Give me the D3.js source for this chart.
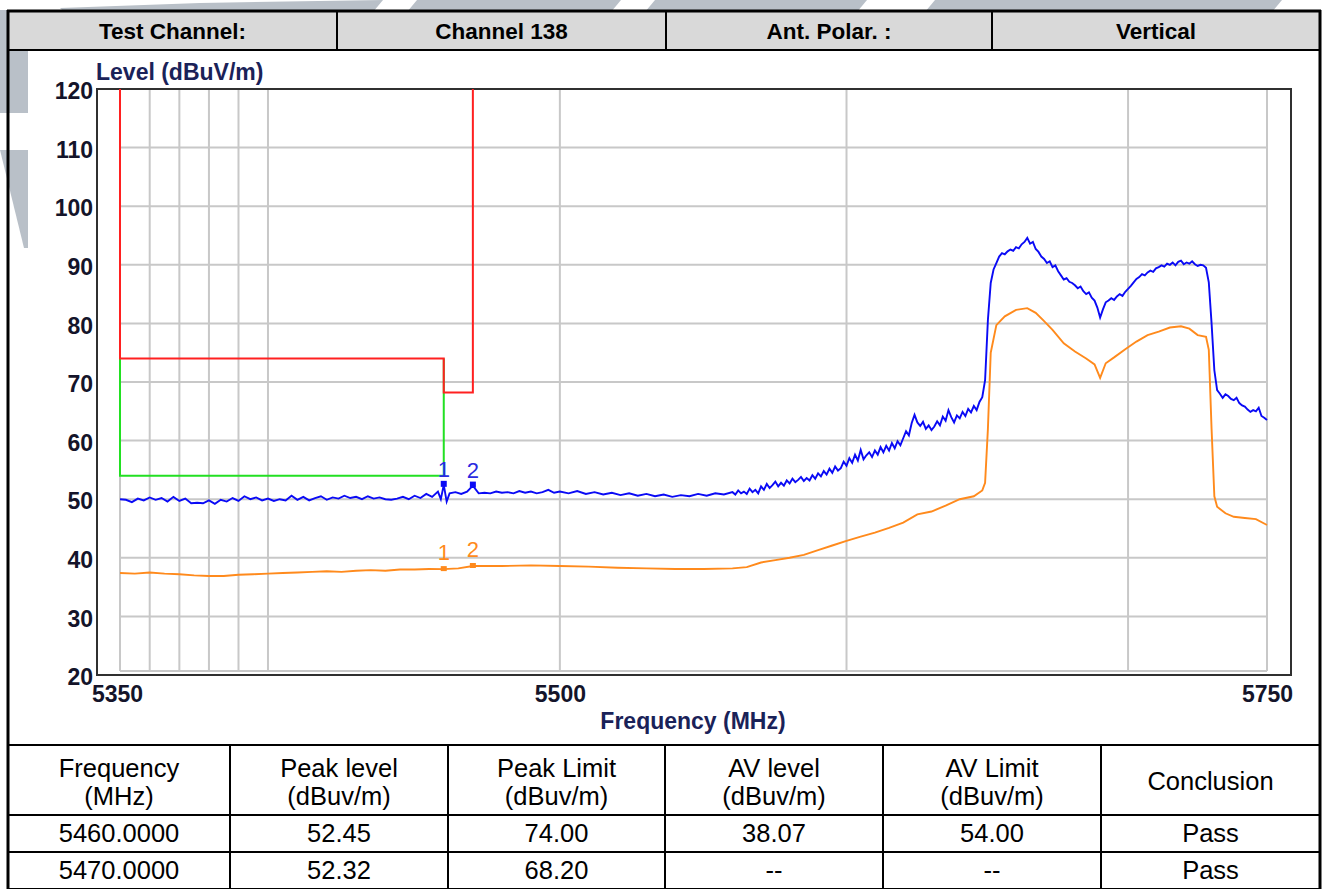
<!DOCTYPE html>
<html>
<head>
<meta charset="utf-8">
<script src="https://cdn.jsdelivr.net/npm/d3@7"></script>
<style>
  html, body { margin: 0; padding: 0; background: #ffffff; }
  svg { display: block; }
  text { font-family: "Liberation Sans", Arial, sans-serif; }
</style>
</head>
<body>
<svg id="chart" width="1330" height="889"></svg>
<script>
// ---- report header ----
const headerCells = ["Test Channel:", "Channel 138", "Ant. Polar. :", "Vertical"];

// ---- axis ticks ----
const yTicks = [20, 30, 40, 50, 60, 70, 80, 90, 100, 110, 120];
const xTickLabels = [5350, 5500, 5750];
const xGridFreqs = [5350, 5360, 5370, 5380, 5390, 5400, 5500, 5600, 5700, 5750];

// ---- limit lines (MHz, dBuV/m) ----
const peakLimit = [[5350, 120], [5350, 74], [5460, 74], [5460, 68.2], [5470, 68.2], [5470, 120]];
const avgLimit = [[5350, 74], [5350, 54], [5460, 54], [5460, 74]];

// ---- peak detector trace (MHz, dBuV/m) ----
const peakTrace = [
  [5350, 50.0], [5352, 49.9], [5354, 49.5], [5356, 50.1], [5358, 49.8], [5360, 50.3],
  [5362, 49.9], [5364, 50.2], [5366, 49.6], [5368, 50.4], [5370, 49.7], [5372, 50.1],
  [5374, 49.3], [5376, 49.4], [5378, 49.3], [5380, 49.8], [5382, 49.2], [5384, 49.9],
  [5386, 49.6], [5388, 50.2], [5390, 49.7], [5392, 50.5], [5394, 50.0], [5396, 50.3],
  [5398, 49.8], [5400, 50.1], [5402, 49.7], [5404, 50.0], [5406, 49.8], [5408, 50.6],
  [5410, 49.9], [5412, 50.4], [5414, 49.8], [5416, 50.2], [5418, 50.5], [5420, 49.9],
  [5422, 50.3], [5424, 50.1], [5426, 50.6], [5428, 50.2], [5430, 50.4], [5432, 50.0],
  [5434, 50.5], [5436, 50.1], [5438, 50.3], [5440, 50.0], [5442, 49.9], [5444, 50.1],
  [5446, 50.4], [5448, 50.0], [5450, 50.6], [5452, 50.2], [5454, 50.9], [5456, 50.4],
  [5458, 51.3], [5459, 50.0], [5460, 52.45], [5461, 49.6], [5462, 51.0], [5464, 51.2],
  [5466, 50.9], [5468, 51.3], [5470, 52.32], [5472, 51.0], [5474, 51.1], [5476, 51.0],
  [5478, 51.3], [5480, 51.1], [5482, 51.2], [5484, 51.0], [5486, 51.4], [5488, 51.1],
  [5490, 51.3], [5492, 51.0], [5494, 51.2], [5496, 51.6], [5498, 51.1], [5500, 51.3],
  [5503, 51.0], [5506, 51.4], [5509, 50.9], [5512, 51.2], [5515, 50.8], [5518, 51.1],
  [5521, 50.7], [5524, 51.0], [5527, 50.6], [5530, 50.9], [5533, 50.5], [5536, 50.8],
  [5539, 50.4], [5542, 50.7], [5545, 50.5], [5548, 50.9], [5551, 50.6], [5554, 51.0],
  [5557, 50.8], [5560, 51.2], [5561, 50.8], [5562, 51.5], [5563, 51.0], [5564, 51.3],
  [5565, 50.9], [5566, 51.8], [5567, 51.2], [5568, 51.6], [5569, 51.0], [5570, 52.2],
  [5571, 51.6], [5572, 52.6], [5573, 51.9], [5574, 52.4], [5575, 53.0], [5576, 52.2],
  [5577, 52.8], [5578, 52.3], [5579, 53.2], [5580, 52.7], [5581, 53.5], [5582, 52.9],
  [5583, 53.3], [5584, 53.8], [5585, 53.1], [5586, 53.6], [5587, 53.2], [5588, 54.1],
  [5589, 53.5], [5590, 54.4], [5591, 53.9], [5592, 54.8], [5593, 54.2], [5594, 55.2],
  [5595, 54.5], [5596, 55.6], [5597, 54.9], [5598, 55.3], [5599, 56.4], [5600, 55.7],
  [5601, 57.0], [5602, 56.2], [5603, 57.6], [5604, 56.6], [5605, 58.4], [5606, 56.8],
  [5607, 57.5], [5608, 58.0], [5609, 57.2], [5610, 58.3], [5611, 57.6], [5612, 58.9],
  [5613, 58.0], [5614, 59.1], [5615, 58.3], [5616, 59.6], [5617, 58.7], [5618, 59.9],
  [5619, 59.2], [5620, 60.4], [5621, 61.6], [5622, 60.9], [5623, 63.0], [5624, 64.4],
  [5625, 63.1], [5626, 62.5], [5627, 63.2], [5628, 62.0], [5629, 62.6], [5630, 61.8],
  [5631, 62.4], [5632, 63.3], [5633, 62.6], [5634, 64.1], [5635, 63.4], [5636, 65.2],
  [5637, 64.0], [5638, 63.1], [5639, 64.3], [5640, 63.8], [5641, 64.9], [5642, 64.2],
  [5643, 65.4], [5644, 64.8], [5645, 65.9], [5646, 65.2], [5647, 66.6], [5648, 67.4],
  [5649, 70.3], [5650, 80.6], [5651, 86.9], [5652, 89.2], [5653, 90.3], [5654, 91.4],
  [5655, 92.0], [5656, 91.8], [5657, 92.3], [5658, 92.6], [5659, 92.4], [5660, 93.0],
  [5661, 92.8], [5662, 93.5], [5663, 93.9], [5664, 94.6], [5665, 93.6], [5666, 93.9],
  [5667, 92.7], [5668, 92.2], [5669, 91.4], [5670, 91.0], [5671, 90.3], [5672, 90.6],
  [5673, 89.6], [5674, 89.9], [5675, 88.9], [5676, 88.2], [5677, 87.5], [5678, 87.7],
  [5679, 87.1], [5680, 86.9], [5681, 86.5], [5682, 86.0], [5683, 86.3], [5684, 85.5],
  [5685, 85.0], [5686, 85.3], [5687, 84.4], [5688, 83.9], [5689, 82.7], [5690, 81.0],
  [5691, 82.4], [5692, 83.6], [5693, 83.9], [5694, 84.3], [5695, 84.0], [5696, 84.6],
  [5697, 85.0], [5698, 84.7], [5699, 85.4], [5700, 85.9], [5701, 86.4], [5702, 87.0],
  [5703, 87.6], [5704, 87.9], [5705, 88.4], [5706, 88.2], [5707, 88.7], [5708, 89.0],
  [5709, 88.8], [5710, 89.4], [5711, 89.6], [5712, 89.9], [5713, 89.7], [5714, 90.2],
  [5715, 90.0], [5716, 90.4], [5717, 89.9], [5718, 90.5], [5719, 90.7], [5720, 90.1],
  [5721, 90.4], [5722, 90.2], [5723, 90.6], [5724, 90.1], [5725, 89.8], [5726, 90.0],
  [5727, 89.9], [5728, 89.5], [5729, 87.0], [5730, 80.0], [5731, 72.0], [5732, 68.6],
  [5733, 68.0], [5734, 67.3], [5735, 67.9], [5736, 67.6], [5737, 67.1], [5738, 66.9],
  [5739, 67.3], [5740, 66.4], [5741, 66.0], [5742, 65.8], [5743, 65.3], [5744, 64.9],
  [5745, 65.2], [5746, 65.0], [5747, 65.6], [5748, 64.2], [5749, 63.9], [5750, 63.5]
];

// ---- average detector trace (MHz, dBuV/m) ----
const avgTrace = [
  [5350, 37.4], [5355, 37.3], [5360, 37.5], [5365, 37.3], [5370, 37.2], [5375, 37.0],
  [5380, 36.9], [5385, 36.9], [5390, 37.1], [5395, 37.2], [5400, 37.3], [5405, 37.4],
  [5410, 37.5], [5415, 37.6], [5420, 37.7], [5425, 37.6], [5430, 37.8], [5435, 37.9],
  [5440, 37.8], [5445, 38.0], [5450, 38.0], [5455, 38.1], [5460, 38.07], [5465, 38.2],
  [5470, 38.6], [5475, 38.6], [5480, 38.6], [5490, 38.7], [5500, 38.6], [5510, 38.5],
  [5520, 38.3], [5530, 38.2], [5540, 38.1], [5550, 38.1], [5560, 38.2], [5565, 38.4],
  [5570, 39.2], [5575, 39.6], [5580, 40.0], [5585, 40.5], [5590, 41.3], [5595, 42.1],
  [5600, 42.9], [5605, 43.6], [5610, 44.3], [5615, 45.1], [5620, 46.0], [5625, 47.4],
  [5630, 47.9], [5635, 48.9], [5640, 50.0], [5645, 50.5], [5648, 51.5], [5649, 52.8],
  [5650, 62.0], [5651, 75.0], [5653, 79.7], [5656, 81.2], [5660, 82.3], [5664, 82.6],
  [5667, 81.8], [5670, 80.4], [5673, 78.9], [5677, 76.6], [5681, 75.2], [5685, 74.0],
  [5688, 73.0], [5690, 70.7], [5692, 73.2], [5695, 74.2], [5699, 75.6], [5703, 76.9],
  [5707, 78.0], [5711, 78.6], [5715, 79.3], [5719, 79.5], [5722, 79.1], [5725, 78.0],
  [5728, 77.7], [5729, 75.5], [5730, 62.0], [5731, 50.5], [5732, 48.7], [5735, 47.6],
  [5738, 47.0], [5742, 46.8], [5746, 46.6], [5750, 45.6]
];

// ---- marked points ----
const peakMarkers = [{ id: "1", f: 5460, v: 52.45 }, { id: "2", f: 5470, v: 52.32 }];
const avgMarkers = [{ id: "1", f: 5460, v: 38.07 }, { id: "2", f: 5470, v: 38.6 }];

// ---- result table ----
const tableHead = [["Frequency", "(MHz)"], ["Peak level", "(dBuv/m)"], ["Peak Limit", "(dBuv/m)"],
                   ["AV level", "(dBuv/m)"], ["AV Limit", "(dBuv/m)"], ["Conclusion"]];
const tableRows = [
  ["5460.0000", "52.45", "74.00", "38.07", "54.00", "Pass"],
  ["5470.0000", "52.32", "68.20", "--", "--", "Pass"]
];

const svg = d3.select("#chart");
const W = 1330, H = 889;
const L = 8, R = 1320;                 // outer border
const colX = [L, 230, 448, 665, 883, 1101, R];
const headX = [L, 337, 666, 992, R];

// watermark pieces visible around the report
const mark = "#b9c0c8";
const wm = svg.append("g");
[[[64, 12], [60, 8], [200, 3], [383, 0], [373, 12]],
 [[407, 12], [417, 0], [621, 0], [611, 12]],
 [[645, 12], [655, 0], [867, 0], [857, 12]],
 [[925, 12], [935, 0], [1282, 0], [1272, 12]],
 [[0, 10], [28, 10], [28, 113], [0, 113]],
 [[0, 150], [28, 150], [28, 248], [24, 248]]
].forEach(p => wm.append("polygon").attr("points", p.join(" ")).attr("fill", mark));

// chart panel
svg.append("rect").attr("x", 28).attr("y", 50).attr("width", R - 28).attr("height", 695).attr("fill", "#fff");
// table body background
svg.append("rect").attr("x", L).attr("y", 745).attr("width", R - L).attr("height", H - 745).attr("fill", "#fff");

// header row
svg.append("rect").attr("x", L).attr("y", 11).attr("width", R - L).attr("height", 39).attr("fill", "#d9d9d9");
headerCells.forEach((t, i) => {
  svg.append("text")
    .attr("x", (headX[i] + headX[i + 1]) / 2).attr("y", 31)
    .attr("dy", "0.36em").attr("text-anchor", "middle")
    .attr("font-size", 22.5).attr("font-weight", "bold").attr("fill", "#000")
    .text(t);
});

// scales
const x = d3.scaleLog().domain([5350, 5750]).range([120, 1267]);
const y = d3.scaleLinear().domain([20, 120]).range([675, 89]);

// grid
const grid = svg.append("g").attr("stroke", "#c8c8c8").attr("stroke-width", 2);
yTicks.filter(v => v > 20 && v < 120).forEach(v => {
  grid.append("line").attr("x1", x(5350)).attr("x2", x(5750)).attr("y1", y(v)).attr("y2", y(v));
});
grid.append("line").attr("x1", x(5350)).attr("x2", x(5750)).attr("y1", 671).attr("y2", 671);
xGridFreqs.forEach(f => {
  grid.append("line").attr("x1", x(f)).attr("x2", x(f)).attr("y1", y(120)).attr("y2", 671);
});

// frame
svg.append("rect").attr("x", 97).attr("y", 89).attr("width", 1291 - 97).attr("height", 675 - 89)
  .attr("fill", "none").attr("stroke", "#303030").attr("stroke-width", 2);

// axes
const tickColor = "#14142a";
const yAxis = svg.append("g").attr("transform", "translate(95,0)")
  .call(d3.axisLeft(y).tickValues(yTicks).tickSize(0).tickPadding(2));
yAxis.select(".domain").remove();
yAxis.selectAll("text").attr("font-size", 23).attr("font-weight", "bold")
  .attr("font-family", "Liberation Sans, Arial, sans-serif").attr("fill", tickColor).attr("dy", "0.42em");

const xAxis = svg.append("g").attr("transform", "translate(0,675)")
  .call(d3.axisBottom(x).tickValues(xTickLabels).tickFormat(d3.format("d")).tickSize(0).tickPadding(11));
xAxis.select(".domain").remove();
xAxis.selectAll("text").attr("font-size", 23).attr("font-weight", "bold")
  .attr("font-family", "Liberation Sans, Arial, sans-serif").attr("fill", tickColor);
xAxis.selectAll(".tick").filter(d => d === 5350).select("text").attr("dx", "-3");

svg.append("text").attr("x", 96).attr("y", 80).attr("font-size", 23).attr("font-weight", "bold")
  .attr("fill", "#1a2258").text("Level (dBuV/m)");
svg.append("text").attr("x", 693).attr("y", 729).attr("text-anchor", "middle").attr("font-size", 23)
  .attr("font-weight", "bold").attr("fill", "#1a2258").text("Frequency (MHz)");

// limit lines
const line = d3.line().x(d => x(d[0])).y(d => y(d[1]));
svg.append("path").attr("d", line(avgLimit)).attr("fill", "none").attr("stroke", "#22e022").attr("stroke-width", 2);
svg.append("path").attr("d", line(peakLimit)).attr("fill", "none").attr("stroke", "#ff2020").attr("stroke-width", 2);

// traces
svg.append("path").attr("d", line(avgTrace)).attr("fill", "none").attr("stroke", "#ff8a1c").attr("stroke-width", 1.9);
svg.append("path").attr("d", line(peakTrace)).attr("fill", "none").attr("stroke", "#0a0af5").attr("stroke-width", 1.9);

// markers
peakMarkers.forEach(m => {
  const cx = x(m.f), cy = y(m.v);
  svg.append("rect").attr("x", cx - 3).attr("y", cy - 4).attr("width", 6).attr("height", 6).attr("fill", "#0a0af5");
  svg.append("text").attr("x", cx).attr("y", cy - 8).attr("text-anchor", "middle")
    .attr("font-size", 22).attr("fill", "#2a2ae0").text(m.id);
});
avgMarkers.forEach(m => {
  const cx = x(m.f), cy = y(m.v);
  svg.append("rect").attr("x", cx - 3).attr("y", cy - 3).attr("width", 6).attr("height", 5).attr("fill", "#ff8a1c");
  svg.append("text").attr("x", cx).attr("y", cy - 9).attr("text-anchor", "middle")
    .attr("font-size", 22).attr("fill", "#ff8a1c").text(m.id);
});

// result table
const rowY = [745, 815, 852, 889];
const cellFont = 25.5;
tableHead.forEach((lines, i) => {
  const cx = (colX[i] + colX[i + 1]) / 2;
  if (lines.length === 2) {
    svg.append("text").attr("x", cx).attr("y", 768).attr("dy", "0.35em").attr("text-anchor", "middle")
      .attr("font-size", cellFont).text(lines[0]);
    svg.append("text").attr("x", cx).attr("y", 796).attr("dy", "0.35em").attr("text-anchor", "middle")
      .attr("font-size", cellFont).text(lines[1]);
  } else {
    svg.append("text").attr("x", cx).attr("y", 781).attr("dy", "0.35em").attr("text-anchor", "middle")
      .attr("font-size", cellFont).text(lines[0]);
  }
});
tableRows.forEach((row, r) => {
  row.forEach((t, i) => {
    svg.append("text").attr("x", (colX[i] + colX[i + 1]) / 2).attr("y", (rowY[r + 1] + rowY[r + 2]) / 2)
      .attr("dy", "0.35em").attr("text-anchor", "middle").attr("font-size", cellFont).text(t);
  });
});

// table rules
const rules = svg.append("g").attr("stroke", "#000").attr("stroke-width", 2);
rowY.forEach(yy => rules.append("line").attr("x1", L).attr("x2", R).attr("y1", yy).attr("y2", yy));
colX.slice(1, -1).forEach(xx => rules.append("line").attr("x1", xx).attr("x2", xx).attr("y1", 745).attr("y2", H));
headX.slice(1, -1).forEach(xx => rules.append("line").attr("x1", xx).attr("x2", xx).attr("y1", 11).attr("y2", 50));
rules.append("line").attr("x1", L).attr("x2", R).attr("y1", 50).attr("y2", 50);

// outer border
const border = svg.append("g").attr("stroke", "#000").attr("stroke-width", 3);
border.append("line").attr("x1", L - 1).attr("x2", R + 1).attr("y1", 11).attr("y2", 11);
border.append("line").attr("x1", L).attr("x2", L).attr("y1", 10).attr("y2", H);
border.append("line").attr("x1", R).attr("x2", R).attr("y1", 10).attr("y2", H);
</script>
</body>
</html>
